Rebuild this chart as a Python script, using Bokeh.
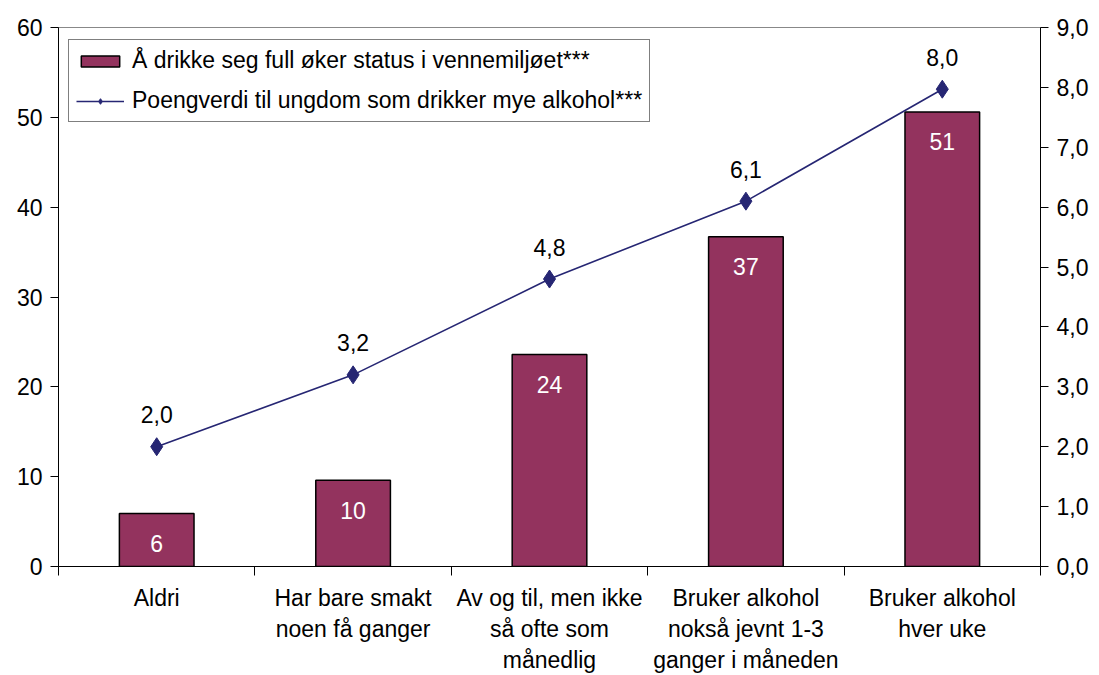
import numpy as np
from bokeh.plotting import figure
from bokeh.models import (Range1d, LinearAxis, FixedTicker, ColumnDataSource,
                          CustomJSTickFormatter, Legend, LegendItem)
from bokeh.core.properties import value
from bokeh.embed import file_html
from bokeh.resources import INLINE

categories = ["Aldri", "Har bare smakt\nnoen få ganger",
              "Av og til, men ikke\nså ofte som\nmånedlig",
              "Bruker alkohol\nnokså jevnt 1-3\nganger i måneden",
              "Bruker alkohol\nhver uke"]
bar_values = [5.9, 9.6, 23.6, 36.7, 50.6]
bar_labels = ["6", "10", "24", "37", "51"]
line_values = [2.0, 3.2, 4.8, 6.1, 7.97]
bar_name = "Å drikke seg full øker status i vennemiljøet***"
line_name = "Poengverdi til ungdom som drikker mye alkohol***"

FONT = "Liberation Sans"
FS = "23px"
BAR_COLOR = "#93335E"
LINE_COLOR = "#262673"

x = np.arange(len(categories)) + 0.5
src = ColumnDataSource(dict(
    x=x, bar=bar_values, blab=bar_labels, line=line_values,
    llab=[f"{v:.1f}".replace(".", ",") for v in line_values]))

p = figure(width=1091, height=675, x_range=Range1d(0, len(categories)),
           y_range=Range1d(0, 60), output_backend="svg", toolbar_location=None,
           min_border_left=58, min_border_top=27, min_border_right=47,
           min_border_bottom=108)
p.extra_y_ranges = {"right": Range1d(0, 9)}
p.xgrid.visible = False
p.ygrid.visible = False
p.outline_line_color = "#888888"
p.outline_line_width = 1
p.background_fill_color = "white"
p.border_fill_color = "white"

bars = p.vbar(x="x", top="bar", width=0.38, source=src, fill_color=BAR_COLOR,
              line_color="black", line_width=1.5)
p.text(x="x", y="bar", text="blab", source=src, text_color="white",
       text_font=value(FONT), text_font_size=FS, text_align="center",
       text_baseline="middle", y_offset=30)

ln = p.line(x="x", y="line", source=src, y_range_name="right",
            line_color=LINE_COLOR, line_width=1.6)
mk = p.scatter(x="x", y="line", source=src, y_range_name="right",
               marker="diamond", size=18, fill_color=LINE_COLOR,
               line_color=LINE_COLOR)
p.text(x="x", y="line", text="llab", source=src, y_range_name="right",
       text_color="black", text_font=value(FONT), text_font_size=FS,
       text_align="center", text_baseline="middle", y_offset=-32)

# Axes
xa = p.xaxis[0]
xa.ticker = FixedTicker(ticks=list(x), minor_ticks=list(range(len(categories) + 1)))
xa.formatter = CustomJSTickFormatter(args=dict(labels=categories),
                                     code="return labels[Math.floor(tick)];")
xa.major_tick_line_color = None
xa.major_tick_out = 0
xa.major_tick_in = 0
xa.minor_tick_out = 9
xa.minor_tick_in = 0
xa.minor_tick_line_color = "black"
xa.axis_line_color = "black"
xa.major_label_standoff = 9
xa.major_label_text_font = FONT
xa.major_label_text_font_size = FS
xa.major_label_text_color = "black"

ya = p.yaxis[0]
ya.ticker = FixedTicker(ticks=[0, 10, 20, 30, 40, 50, 60])
ya.major_tick_out = 8
ya.major_tick_in = 0
ya.minor_tick_line_color = None
ya.axis_line_color = "black"
ya.major_label_text_font = FONT
ya.major_label_text_font_size = FS
ya.major_label_text_color = "black"
ya.major_label_standoff = 8

ra = LinearAxis(y_range_name="right", ticker=FixedTicker(ticks=list(range(10))),
                formatter=CustomJSTickFormatter(
                    code="return tick.toFixed(1).replace('.', ',');"))
ra.major_tick_out = 8
ra.major_tick_in = 0
ra.minor_tick_line_color = None
ra.axis_line_color = "black"
ra.major_label_text_font = FONT
ra.major_label_text_font_size = FS
ra.major_label_text_color = "black"
ra.major_label_standoff = 8
p.add_layout(ra, "right")

legend = Legend(items=[LegendItem(label=bar_name, renderers=[bars]),
                       LegendItem(label=line_name, renderers=[ln, mk])],
                location=(10, 444), orientation="vertical")
legend.border_line_color = "black"
legend.border_line_width = 1
legend.background_fill_color = "white"
legend.background_fill_alpha = 1
legend.label_text_font = FONT
legend.label_text_font_size = FS
legend.label_text_color = "black"
legend.glyph_width = 48
legend.glyph_height = 14
legend.label_height = 24
legend.spacing = 13
legend.padding = 7
legend.label_standoff = 8
legend.margin = 0
p.add_layout(legend, "center")

open("out.html", "w").write(file_html(p, INLINE))
